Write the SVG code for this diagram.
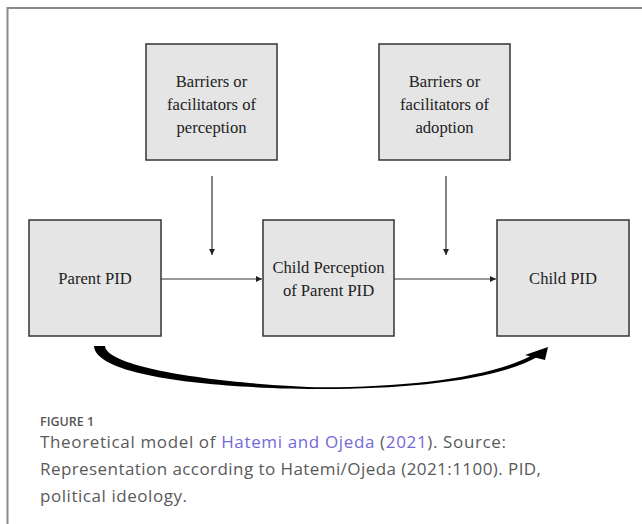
<svg xmlns="http://www.w3.org/2000/svg" width="642" height="524" viewBox="0 0 642 524">
<style>
.box{fill:#e5e5e5;stroke:#333;stroke-width:1.5}
.lbl{font-family:"Liberation Serif","Times New Roman",serif;font-size:16.6px;fill:#222;text-anchor:middle}
.con{stroke:#333;stroke-width:1.2;fill:none}
.cap{font-family:"Open Sans","Liberation Sans",sans-serif;font-size:17px;fill:#5a5a5a}
.link{fill:#7468d8}
</style>
<defs>
<marker id="ah" markerWidth="8" markerHeight="8" refX="6" refY="3" orient="auto" markerUnits="userSpaceOnUse">
<path d="M0,0 L6,3 L0,6 Z" fill="#222"/>
</marker>
</defs>
<rect width="642" height="524" fill="#fff"/>
<path d="M7.5,524 V8 H642" fill="none" stroke="#8a8a8a" stroke-width="2"/>

<g id="barriers-perception">
<rect class="box" x="146" y="44" width="131" height="116"/>
<text class="lbl" x="211.5" y="87">Barriers or</text>
<text class="lbl" x="211.5" y="110">facilitators of</text>
<text class="lbl" x="211.5" y="133">perception</text>
</g>
<g id="barriers-adoption">
<rect class="box" x="379" y="44" width="131" height="116"/>
<text class="lbl" x="444.5" y="87">Barriers or</text>
<text class="lbl" x="444.5" y="110">facilitators of</text>
<text class="lbl" x="444.5" y="133">adoption</text>
</g>
<g id="parent-pid">
<rect class="box" x="29" y="220" width="132" height="116"/>
<text class="lbl" x="95" y="284">Parent PID</text>
</g>
<g id="child-perception">
<rect class="box" x="263" y="220" width="131" height="116"/>
<text class="lbl" x="328.5" y="273">Child Perception</text>
<text class="lbl" x="328.5" y="296">of Parent PID</text>
</g>
<g id="child-pid">
<rect class="box" x="497" y="220" width="132" height="116"/>
<text class="lbl" x="563" y="284">Child PID</text>
</g>

<g id="connectors">
<line class="con" x1="212" y1="176" x2="212" y2="255" marker-end="url(#ah)"/>
<line class="con" x1="446" y1="176" x2="446" y2="255" marker-end="url(#ah)"/>
<line class="con" x1="161" y1="279" x2="262" y2="279" marker-end="url(#ah)"/>
<line class="con" x1="394" y1="279" x2="496" y2="279" marker-end="url(#ah)"/>
<path d="M94,346 L105,346 C107,371 250,386 323,387.2 C410,387.2 490,377 530,356.3 L525,355 L548,347 L545,360 L536,357.8 C495,380 410,389 323,389 C240,389 96,380 94,346 Z" fill="#000"/>
</g>

<g id="caption">
<text x="40" y="426" font-family="'Open Sans','Liberation Sans',sans-serif" font-size="12.5" font-weight="600" fill="#555">FIGURE 1</text>
<text class="cap" x="40" y="448" textLength="466" lengthAdjust="spacing">Theoretical model of <tspan class="link">Hatemi and Ojeda</tspan> (<tspan class="link">2021</tspan>). Source:</text>
<text class="cap" x="40" y="475" textLength="501" lengthAdjust="spacing">Representation according to Hatemi/Ojeda (2021:1100). PID,</text>
<text class="cap" x="40" y="502" textLength="147" lengthAdjust="spacing">political ideology.</text>
</g>
</svg>
